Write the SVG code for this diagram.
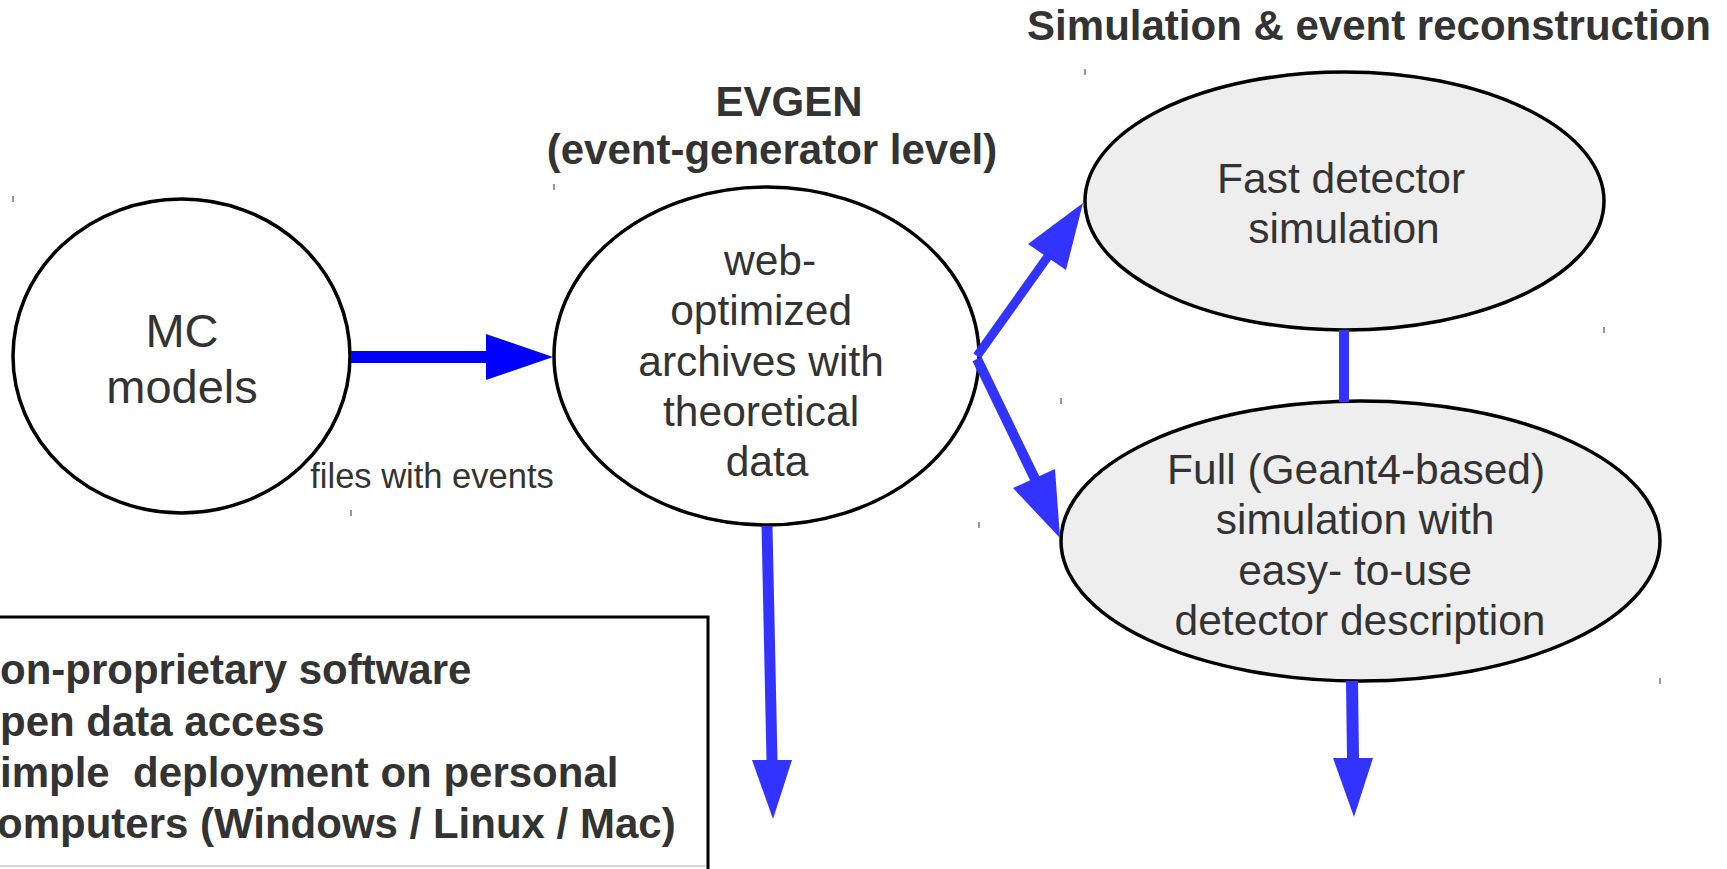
<svg xmlns="http://www.w3.org/2000/svg" width="1727" height="869" viewBox="0 0 1727 869">
<style>
.node{stroke:#000;stroke-width:3.5}
.white{fill:#fff}
.grey{fill:#eeeeee}
.t{font-family:"Liberation Sans",Arial,sans-serif;fill:#333333;text-anchor:middle}
.b{font-weight:bold}
.blue{stroke:#3333ff;fill:none}
.bluefill{fill:#3333ff}
.tick{stroke:#555;stroke-width:1.2}
</style>
<rect width="1727" height="869" fill="#fff"/>

<g id="title-sim">
<text class="t b" x="1369" y="40" font-size="42">Simulation &amp; event reconstruction</text>
</g>
<g id="title-evgen">
<text class="t b" x="789" y="116" font-size="42">EVGEN</text>
<text class="t b" x="772" y="164" font-size="42">(event-generator level)</text>
</g>

<g id="node-mc">
<ellipse class="node white" cx="181.5" cy="356" rx="168.5" ry="157"/>
<text class="t" x="182" y="347" font-size="47">MC</text>
<text class="t" x="182" y="403" font-size="47">models</text>
</g>

<g id="node-evgen">
<ellipse class="node white" cx="766.5" cy="356" rx="212.5" ry="169"/>
<text class="t" font-size="42.5">
<tspan x="776" y="275">web-</tspan>
<tspan x="767" y="325">optimized</tspan>
<tspan x="767" y="376">archives with</tspan>
<tspan x="767" y="426">theoretical</tspan>
<tspan x="767" y="476">data</tspan>
</text>
</g>

<g id="node-fast">
<ellipse class="node grey" cx="1344.5" cy="201" rx="259.5" ry="129"/>
<text class="t" font-size="42.5">
<tspan x="1347" y="193">Fast detector</tspan>
<tspan x="1344" y="243">simulation</tspan>
</text>
</g>

<g id="node-full">
<ellipse class="node grey" cx="1360.5" cy="541" rx="299.5" ry="140"/>
<text class="t" font-size="42.5">
<tspan x="1362" y="484">Full (Geant4-based)</tspan>
<tspan x="1361" y="534">simulation with</tspan>
<tspan x="1361" y="585">easy- to-use</tspan>
<tspan x="1360" y="635">detector description</tspan>
</text>
</g>

<g id="node-features">
<path d="M-5 617 H708 V869" fill="none" stroke="#000" stroke-width="3"/>
<line x1="0" y1="866" x2="706" y2="866" stroke="#ccc" stroke-width="1.5"/>
<text class="t b" font-size="42" style="text-anchor:start;white-space:pre" xml:space="preserve"><tspan x="0" y="684">on-proprietary software</tspan><tspan x="0" y="736">pen data access</tspan><tspan x="0" y="787">imple  deployment on personal</tspan><tspan x="-3" y="838">omputers (Windows / Linux / Mac)</tspan></text>
</g>

<g id="connectors">
<line x1="351" y1="357" x2="487" y2="357" stroke="#0000ff" stroke-width="12"/>
<polygon points="486,334 553,357 486,380" fill="#0000ff"/>
<text class="t" x="432" y="488" font-size="34.5">files with events</text>

<line class="blue" x1="977" y1="356" x2="1049" y2="255" stroke-width="9"/>
<polygon class="bluefill" points="1028,244 1083,203 1066,270"/>

<line class="blue" x1="977" y1="359" x2="1036" y2="481" stroke-width="10"/>
<polygon class="bluefill" points="1013,488 1060,538 1055,469"/>

<line class="blue" x1="1344" y1="330" x2="1344" y2="402" stroke-width="10"/>

<line class="blue" x1="767" y1="526" x2="772" y2="761" stroke-width="11"/>
<polygon class="bluefill" points="752,760 792,760 773,819"/>

<line class="blue" x1="1352" y1="681" x2="1353" y2="759" stroke-width="12"/>
<polygon class="bluefill" points="1333,758 1373,758 1354,817"/>
</g>

<g id="ticks">
<line class="tick" x1="1085" y1="69" x2="1085" y2="75"/>
<line class="tick" x1="1604" y1="327" x2="1604" y2="333"/>
<line class="tick" x1="554" y1="184" x2="554" y2="190"/>
<line class="tick" x1="979" y1="522" x2="979" y2="528"/>
<line class="tick" x1="13" y1="196" x2="13" y2="202"/>
<line class="tick" x1="351" y1="510" x2="351" y2="516"/>
<line class="tick" x1="1061" y1="398" x2="1061" y2="404"/>
<line class="tick" x1="1660" y1="678" x2="1660" y2="684"/>
</g>
</svg>
